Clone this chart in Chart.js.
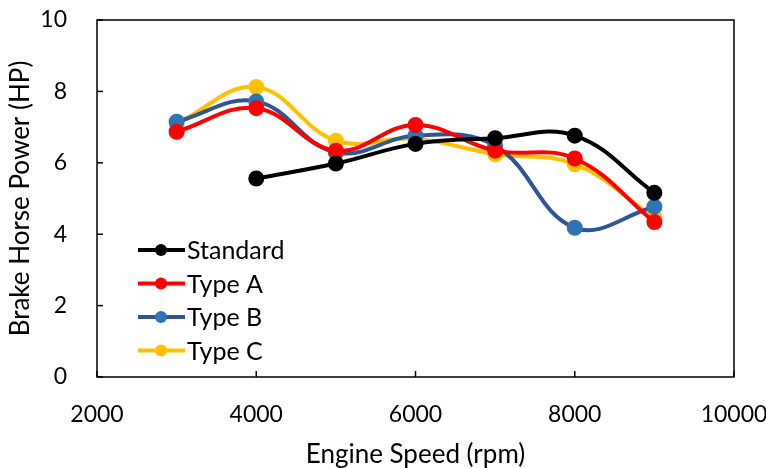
<!DOCTYPE html>
<html>
<head>
<meta charset="utf-8">
<script src="https://cdn.jsdelivr.net/npm/chart.js@4.4.0/dist/chart.umd.min.js"></script>
<style>
  html, body { margin: 0; padding: 0; background: #fff; }
  #wrap { width: 766px; height: 468px; }
</style>
</head>
<body>
<div id="wrap"><canvas id="powerChart"></canvas></div>
<script>
const speeds = [3000, 4000, 5000, 6000, 7000, 8000, 9000];
const standard = [null, 5.56, 5.98, 6.53, 6.69, 6.76, 5.16];
const typeA = [6.87, 7.53, 6.34, 7.06, 6.34, 6.12, 4.34];
const typeB = [7.15, 7.72, 6.29, 6.76, 6.48, 4.18, 4.77];
const typeC = [7.09, 8.12, 6.62, 6.67, 6.24, 5.96, 4.46];
const xTicks = [2000, 4000, 6000, 8000, 10000];
const yTicks = [0, 2, 4, 6, 8, 10];

const font = 'Lato, "Open Sans", sans-serif';

function pts(vals) {
  return speeds.map((s, i) => ({ x: s, y: vals[i] })).filter(p => p.y !== null);
}

function series(label, vals, line, marker) {
  return {
    label,
    data: pts(vals),
    borderColor: line,
    backgroundColor: marker,
    pointBackgroundColor: marker,
    pointBorderColor: marker,
    borderWidth: 4,
    pointRadius: 6,
    tension: 0.4
  };
}

// 박스 테두리 + 안쪽 눈금 + 범례
const framePlugin = {
  id: 'frame',
  afterDraw(chart) {
    const { ctx, chartArea: a, scales } = chart;
    ctx.save();
    ctx.strokeStyle = '#000';
    ctx.lineWidth = 1.5;
    ctx.strokeRect(a.left, a.top, a.right - a.left, a.bottom - a.top);
    yTicks.forEach(v => {
      const y = scales.y.getPixelForValue(v);
      ctx.beginPath(); ctx.moveTo(a.left, y); ctx.lineTo(a.left + 6, y); ctx.stroke();
    });
    xTicks.forEach(v => {
      const x = scales.x.getPixelForValue(v);
      ctx.beginPath(); ctx.moveTo(x, a.bottom); ctx.lineTo(x, a.bottom - 6); ctx.stroke();
    });

    // legend inside plot
    const lx = a.left + 41, ly = 250, gap = 33.5;
    ctx.font = '25px ' + font;
    ctx.textBaseline = 'middle';
    chart.data.datasets.forEach((ds, i) => {
      const y = ly + i * gap;
      ctx.strokeStyle = ds.borderColor;
      ctx.lineWidth = 4;
      ctx.beginPath(); ctx.moveTo(lx, y); ctx.lineTo(lx + 47, y); ctx.stroke();
      ctx.fillStyle = ds.pointBackgroundColor;
      ctx.beginPath(); ctx.arc(lx + 23, y, 6, 0, Math.PI * 2); ctx.fill();
      ctx.fillStyle = '#000';
      ctx.fillText(ds.label, lx + 49, y + 1);
    });
    ctx.restore();
  }
};

new Chart(document.getElementById('powerChart'), {
  type: 'line',
  data: {
    datasets: [
      series('Standard', standard, '#000000', '#000000'),
      series('Type A', typeA, '#FF0000', '#FF0000'),
      series('Type B', typeB, '#2F5597', '#2E75B6'),
      series('Type C', typeC, '#FFC000', '#FFC000')
    ]
  },
  options: {
    responsive: true,
    maintainAspectRatio: false,
    animation: false,
    layout: { padding: { top: 20, right: 32, left: 8, bottom: 0 } },
    plugins: {
      legend: { display: false },
      tooltip: { enabled: false }
    },
    scales: {
      x: {
        type: 'linear',
        min: 2000,
        max: 10000,
        afterBuildTicks: axis => { axis.ticks = xTicks.map(v => ({ value: v })); },
        afterFit: axis => { axis.paddingLeft = 0; axis.paddingRight = 0; axis.height = 91; },
        grid: { display: false },
        border: { display: false },
        ticks: { color: '#000', font: { family: font, size: 23 }, padding: 16, callback: v => String(v) },
        title: { display: true, text: 'Engine Speed (rpm)', color: '#000', font: { family: font, size: 26, lineHeight: 1 }, padding: { top: 0, bottom: 0 } }
      },
      y: {
        min: 0,
        max: 10,
        afterBuildTicks: axis => { axis.ticks = yTicks.map(v => ({ value: v })); },
        afterFit: axis => { axis.paddingTop = 0; axis.paddingBottom = 0; axis.width = 89; },
        grid: { display: false },
        border: { display: false },
        ticks: { color: '#000', font: { family: font, size: 23 }, padding: 22 },
        title: { display: true, text: 'Brake Horse Power (HP)', color: '#000', font: { family: font, size: 26, lineHeight: 1 }, padding: { top: 0, bottom: 0 } }
      }
    }
  },
  plugins: [framePlugin]
});
</script>
</body>
</html>
